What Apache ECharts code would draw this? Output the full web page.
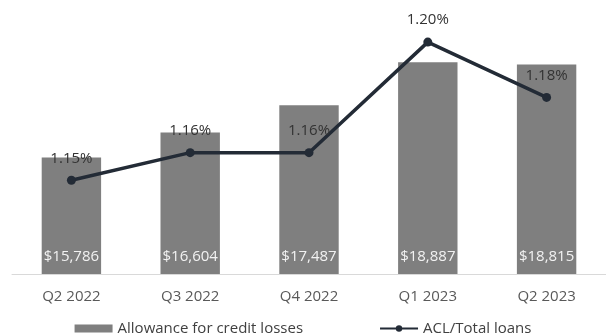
<!DOCTYPE html>
<html>
<head>
<meta charset="utf-8">
<script src="https://cdn.jsdelivr.net/npm/echarts@6/dist/echarts.min.js"></script>
<style>
  html, body { margin: 0; padding: 0; background: #ffffff; }
  #chart { width: 606px; height: 335px; }
</style>
</head>
<body>
<div id="chart"></div>
<script>
// Quarters shown along the category axis
const quarters = ['Q2 2022', 'Q3 2022', 'Q4 2022', 'Q1 2023', 'Q2 2023'];
// Allowance for credit losses, $ millions
const allowance = [15786, 16604, 17487, 18887, 18815];
// ACL as a percentage of total loans
const aclRatio = [1.15, 1.16, 1.16, 1.20, 1.18];

const FONT = '"Open Sans", "DejaVu Sans", sans-serif';
const BAR_COLOR = '#7f7f7f';
const LINE_COLOR = '#232b36';

const chart = echarts.init(document.getElementById('chart'), null, { renderer: 'canvas' });

chart.setOption({
  animation: false,
  backgroundColor: '#ffffff',
  textStyle: { fontFamily: FONT },
  grid: { left: 12, right: 0, top: 28, bottom: 61, containLabel: false },
  legend: {
    left: 'center',
    top: 321,
    padding: 0,
    itemWidth: 38,
    itemHeight: 8,
    itemGap: 76,
    textStyle: { fontFamily: FONT, fontSize: 15, color: '#404040' },
    data: [
      { name: 'Allowance for credit losses', icon: 'rect' },
      { name: 'ACL/Total loans' }
    ]
  },
  xAxis: {
    type: 'category',
    data: quarters,
    axisLine: { show: true, lineStyle: { color: '#d9d9d9', width: 1 } },
    axisTick: { show: false },
    axisLabel: { margin: 15, fontFamily: FONT, fontSize: 15, color: '#595959' },
    splitLine: { show: false }
  },
  yAxis: [
    {
      type: 'value',
      min: 12000,
      max: 20000,
      show: false,
      splitLine: { show: false }
    },
    {
      type: 'value',
      min: 1.1161,
      max: 1.2051,
      show: false,
      splitLine: { show: false }
    }
  ],
  series: [
    {
      name: 'Allowance for credit losses',
      type: 'bar',
      yAxisIndex: 0,
      data: allowance,
      barCategoryGap: '50%',
      itemStyle: { color: BAR_COLOR },
      label: {
        show: true,
        position: 'insideBottom',
        distance: 10,
        fontFamily: FONT,
        fontSize: 15,
        color: '#f2f2f2',
        formatter: p => '$' + p.value.toLocaleString('en-US')
      }
    },
    {
      name: 'ACL/Total loans',
      type: 'line',
      yAxisIndex: 1,
      data: aclRatio,
      symbol: 'circle',
      symbolSize: 9,
      lineStyle: { color: LINE_COLOR, width: 3.5 },
      itemStyle: { color: LINE_COLOR },
      label: {
        show: true,
        position: 'top',
        distance: 10,
        fontFamily: FONT,
        fontSize: 15,
        color: '#333333',
        formatter: p => p.value.toFixed(2) + '%'
      },
      z: 3
    }
  ]
});
</script>
</body>
</html>
